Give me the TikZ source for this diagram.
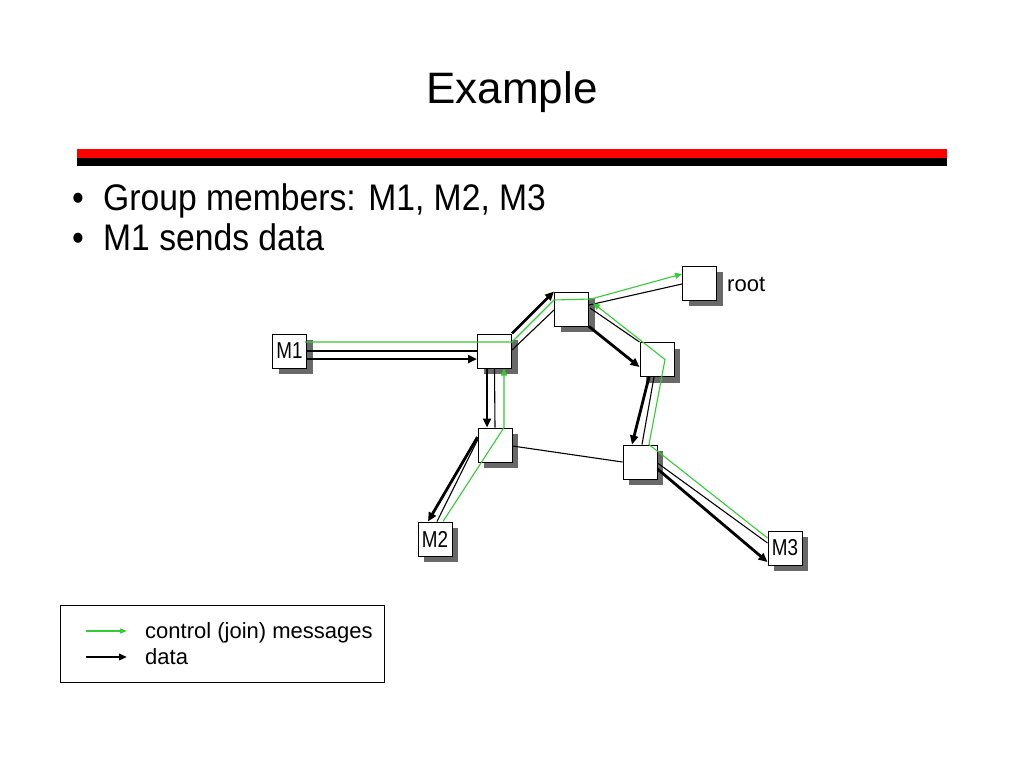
\documentclass[tikz,border=0pt]{standalone}
\usepackage{fontspec}
\setmainfont{Liberation Sans}
\usetikzlibrary{arrows.meta,shadows,calc}
\definecolor{joingreen}{RGB}{51,204,51}
\definecolor{shadowgray}{RGB}{105,105,105}
\newcommand{\narrowtext}[1]{\scalebox{0.82}[1]{#1}}
\newcommand{\bullettext}[1]{\scalebox{0.91}[1]{#1}}
\tikzset{
  router/.style={draw, line width=1pt, fill=white, minimum width=34pt, minimum height=34pt, inner sep=0pt,
    drop shadow={shadow xshift=6pt, shadow yshift=-6pt, opacity=1, fill=shadowgray}},
  member/.style={router, font=\fontsize{23}{25}\selectfont},
  bulletline/.style={anchor=base west, inner sep=0pt, font=\fontsize{37}{40}\selectfont},
  link/.style={line width=1.1pt, black},
  datamsg/.style={line width=2.8pt, black, -{Triangle[length=9pt,width=8pt]}},
  ctrl/.style={line width=1.1pt, joingreen},
  ctrlarrow/.style={ctrl, -{Triangle[length=7pt,width=6pt]}},
}
\begin{document}
\begin{tikzpicture}[x=1pt,y=-1pt]
\useasboundingbox (0,0) rectangle (1024,768);
\fill[white] (0,0) rectangle (1024,768);
% title and rules
\node[font=\fontsize{44}{50}\selectfont] (title) at (512,92) {Example};
\fill[red] (77,149) rectangle (947,158);
\fill[black] (77,158) rectangle (947,166);
% bullets
\node[bulletline] (b1dot) at (72,210) {\bullettext{•}};
\node[bulletline] (b1) at (103,210) {\bullettext{Group members: M1, M2, M3}};
\node[bulletline] (b2dot) at (72,250) {\bullettext{•}};
\node[bulletline] (b2) at (103,250) {\bullettext{M1 sends data}};
% nodes
\node[member] (M1) at (289.5,351) {\narrowtext{M1}};
\node[router] (A) at (494.5,351) {};
\node[router] (B) at (571.5,309) {};
\node[router] (root) at (699.5,283) {};
\node[anchor=west, inner sep=0pt, font=\fontsize{22}{24}\selectfont] (rootlbl) at (727,284) {root};
\node[router] (C) at (657,359.5) {};
\node[router] (D) at (495,445) {};
\node[router] (E) at (640,462) {};
\node[member] (M2) at (435,539) {\narrowtext{M2}};
\node[member] (M3) at (785,548) {\narrowtext{M3}};
% thin links
\draw[link] (M1.east) -- (A.west);
\draw[link] ($(A.east)+(0,-1)$) -- ($(B.west)+(0,1)$);
\draw[link] ($(B.east)+(0,-4)$) -- ($(root.west)+(0,1)$);
\draw[link] ($(B.east)+(1,-1)$) -- (C.north west);
\draw[link] ($(C.south)+(-3,0)$) -- ($(E.north)+(2,0)$);
\draw[link] (A.south) -- (D.north);
\draw[link] ($(D.west)+(0,-5)$) -- ($(M2.north)+(2,0)$);
\draw[link] ($(D.east)+(0,1)$) -- (E.west);
\draw[link] ($(E.east)+(0,1)$) -- ($(M3.west)+(0,-5)$);
% data
\draw[datamsg] ($(M1.east)+(0,8)$) -- ($(A.west)+(0,8)$);
\draw[datamsg] (A.north east) -- (B.north west);
\draw[datamsg] (B.south east) -- ($(C.west)+(0,7.5)$);
\draw[datamsg] ($(C.south)+(-8,0)$) -- ($(E.north)+(-8,0)$);
\draw[datamsg] ($(A.south)+(-7.5,0)$) -- ($(D.north)+(-8,0)$);
\draw[datamsg] ($(D.west)+(0,-8)$) -- ($(M2.north)+(-7,0)$);
\draw[datamsg] ($(E.east)+(0,7)$) -- ($(M3.west)+(0,14)$);
% control (join) messages
\draw[ctrlarrow] ($(M1.east)+(-2,-9)$) -- ($(A.east)+(0,-9)$) -- ($(B.west)+(0,-9)$) -- ($(B.east)+(2,-10)$) -- ($(root.west)+(0,-9)$);
\draw[ctrlarrow] ($(M3.west)+(0,-10)$) -- ($(E.north)+(9,0)$) -- ($(C.center)+(8,0)$) -- ($(B.east)+(4,-6)$);
\draw[ctrlarrow] ($(M2.north)+(8,0)$) -- ($(D.north)+(9,0)$) -- ($(A.south)+(9.5,0)$);
% legend
\node[draw, line width=1pt, anchor=north west, minimum width=324pt, minimum height=77pt, inner sep=0pt] (legend) at (60,605) {};
\coordinate (lg1) at (86,631);
\coordinate (lg2) at (127,631);
\coordinate (ld1) at (86,657);
\coordinate (ld2) at (127,657);
\draw[ctrl, -{Triangle[length=7pt,width=5pt]}] (lg1) -- (lg2);
\draw[line width=2.2pt, -{Triangle[length=8pt,width=6.5pt]}] (ld1) -- (ld2);
\node[anchor=west, inner sep=0pt, font=\fontsize{22}{24}\selectfont] (lgtext) at (145,633) {control (join) messages};
\node[anchor=west, inner sep=0pt, font=\fontsize{22}{24}\selectfont] (ldtext) at (145,657) {data};
\end{tikzpicture}
\end{document}
